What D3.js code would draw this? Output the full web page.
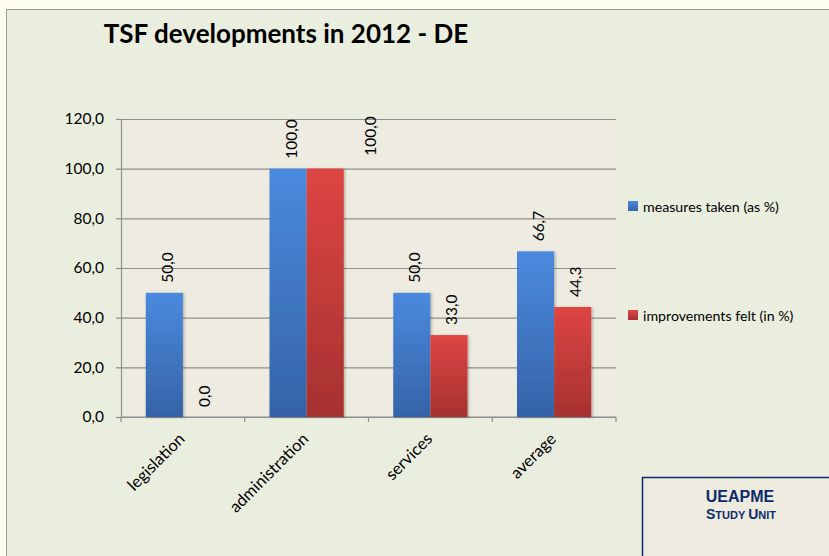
<!DOCTYPE html>
<html>
<head>
<meta charset="utf-8">
<script src="https://cdn.jsdelivr.net/npm/d3@7"></script>
<style>
  html, body { margin: 0; padding: 0; background: #fdfdee; }
  svg { display: block; }
</style>
</head>
<body>
<div id="chart"></div>
<script>
// chart values
var categories = ["legislation", "administration", "services", "average"];
var measures = [50.0, 100.0, 50.0, 66.7];
var improvements = [0.0, 100.0, 33.0, 44.3];
var seriesNames = ["measures taken (as %)", "improvements felt  (in %)"];
var yTicks = [0, 20, 40, 60, 80, 100, 120];

var W = 829, H = 556;
var margin = {top: 119, left: 121, right: 213, bottom: 139};
var width = W - margin.left - margin.right,
    height = H - margin.top - margin.bottom;

var locale = d3.formatLocale({decimal: ",", thousands: ".", grouping: [3], currency: ["", ""]});
var fmt = locale.format(".1f");
var font = "Lato, 'Open Sans', sans-serif";

var svg = d3.select("#chart").append("svg")
  .attr("width", W)
  .attr("height", H);

// gradients + shadow
var defs = svg.append("defs");
function grad(id, top, bottom) {
  var g = defs.append("linearGradient").attr("id", id)
    .attr("x1", 0).attr("y1", 0).attr("x2", 0).attr("y2", 1);
  g.append("stop").attr("offset", "0%").attr("stop-color", top);
  g.append("stop").attr("offset", "100%").attr("stop-color", bottom);
}
grad("gBlue", "#4a8ade", "#3563a7");
grad("gRed", "#de4543", "#a63130");
var f = defs.append("filter").attr("id", "shadow")
  .attr("x", "-20%").attr("y", "-5%").attr("width", "140%").attr("height", "110%");
f.append("feDropShadow").attr("dx", 1.5).attr("dy", 0.5)
  .attr("stdDeviation", 1).attr("flood-color", "#000").attr("flood-opacity", 0.25);

// slide frame
svg.append("rect")
  .attr("x", 6.5).attr("y", 9.5)
  .attr("width", W).attr("height", H)
  .attr("fill", "#eaeedf")
  .attr("stroke", "#9a9a92").attr("stroke-width", 1);

// title
svg.append("text")
  .attr("x", 286).attr("y", 43)
  .attr("text-anchor", "middle")
  .style("font-family", font)
  .style("font-weight", "bold")
  .style("font-size", "26px")
  .style("fill", "#000")
  .text("TSF developments in 2012 - DE");

var g = svg.append("g").attr("transform", "translate(" + margin.left + "," + margin.top + ")");

var x0 = d3.scaleBand().domain(categories).range([0, width])
  .paddingInner(0.4).paddingOuter(0.2);
var x1 = d3.scaleBand().domain([0, 1]).range([0, x0.bandwidth()]);
var y = d3.scaleLinear().domain([0, 120]).range([height, 0]);

// plot area
g.append("rect")
  .attr("width", width).attr("height", height)
  .attr("fill", "#eeebe0");

// gridlines
g.append("g")
  .attr("class", "grid")
  .call(d3.axisLeft(y).tickValues(yTicks).tickSize(-width).tickFormat(""))
  .call(function(s) {
    s.select(".domain").remove();
    s.selectAll("line").attr("stroke", "#8e8e8a").attr("stroke-width", 1.2);
  });

// y axis
g.append("g")
  .call(d3.axisLeft(y).tickValues(yTicks).tickSize(5).tickPadding(12).tickFormat(fmt))
  .call(function(s) {
    s.select(".domain").attr("stroke", "#8e8e8a").attr("stroke-width", 1.2);
    s.selectAll("line").attr("stroke", "#8e8e8a").attr("stroke-width", 1.2);
    s.selectAll("text")
      .style("font-family", font)
      .style("font-size", "15.5px")
      .style("fill", "#000");
  });

// x axis with ticks between categories
var xAxis = g.append("g").attr("transform", "translate(0," + height + ")");
xAxis.append("line")
  .attr("x1", 0).attr("x2", width)
  .attr("stroke", "#8e8e8a").attr("stroke-width", 1.2);
xAxis.selectAll(".sep")
  .data(d3.range(categories.length + 1))
  .enter().append("line")
  .attr("x1", function(i) { return i * x0.step(); })
  .attr("x2", function(i) { return i * x0.step(); })
  .attr("y1", 0).attr("y2", 5)
  .attr("stroke", "#8e8e8a").attr("stroke-width", 1.2);
xAxis.selectAll(".cat")
  .data(categories)
  .enter().append("text")
  .attr("transform", function(d) {
    return "translate(" + (x0(d) + x0.bandwidth() / 2 + 3) + ",23) rotate(-45)";
  })
  .attr("text-anchor", "end")
  .style("font-family", font)
  .style("font-size", "16.5px")
  .style("fill", "#000")
  .text(function(d) { return d; });

// bars
var series = [measures, improvements];
var fills = ["url(#gBlue)", "url(#gRed)"];
var rows = [];
categories.forEach(function(c, i) {
  series.forEach(function(s, k) {
    rows.push({cat: c, k: k, v: s[i], i: i});
  });
});

g.selectAll(".bar")
  .data(rows.filter(function(d) { return d.v > 0; }))
  .enter().append("rect")
  .attr("class", "bar")
  .attr("x", function(d) { return x0(d.cat) + x1(d.k); })
  .attr("y", function(d) { return y(d.v); })
  .attr("width", x1.bandwidth())
  .attr("height", function(d) { return height - y(d.v); })
  .attr("fill", function(d) { return fills[d.k]; })
  .attr("filter", "url(#shadow)");

// value labels (the red administration label sits off to the right in the original)
g.selectAll(".lbl")
  .data(rows)
  .enter().append("text")
  .attr("transform", function(d) {
    var cx = x0(d.cat) + x1(d.k) + x1.bandwidth() / 2 + 8.5;
    var cy = y(d.v) - 10;
    if (d.k === 1 && d.i === 1) { cx += 42; cy -= 3; }
    return "translate(" + cx + "," + cy + ") rotate(-90)";
  })
  .style("font-family", font)
  .style("font-size", "15.5px")
  .style("fill", "#000")
  .text(function(d) { return fmt(d.v); });

// legend
var legend = svg.append("g").attr("transform", "translate(628,201)");
var lg = legend.selectAll(".li")
  .data(seriesNames)
  .enter().append("g")
  .attr("transform", function(d, i) { return "translate(0," + (i * 109) + ")"; });
lg.append("rect")
  .attr("width", 10).attr("height", 10)
  .attr("fill", function(d, i) { return fills[i]; });
lg.append("text")
  .attr("x", 15).attr("y", 11)
  .style("font-family", font)
  .style("font-size", "14.2px")
  .style("fill", "#000")
  .text(function(d) { return d; });

// UEAPME box
svg.append("rect")
  .attr("x", 642.5).attr("y", 477.5)
  .attr("width", 200).attr("height", 100)
  .attr("fill", "#edebe0")
  .attr("stroke", "#0d2a68").attr("stroke-width", 1.5);
svg.append("text")
  .attr("x", 740).attr("y", 502)
  .attr("text-anchor", "middle")
  .style("font-family", "'Liberation Sans', Arial, sans-serif")
  .style("font-weight", "bold")
  .style("font-size", "16px")
  .style("fill", "#0d2a68")
  .text("UEAPME");
var su = svg.append("text")
  .attr("x", 741).attr("y", 519)
  .attr("text-anchor", "middle")
  .style("font-family", "'Liberation Sans', Arial, sans-serif")
  .style("font-weight", "bold")
  .style("font-size", "11px")
  .style("fill", "#0d2a68");
su.append("tspan").style("font-size", "14px").text("S");
su.append("tspan").text("TUDY ");
su.append("tspan").style("font-size", "14px").text("U");
su.append("tspan").text("NIT");
</script>
</body>
</html>
